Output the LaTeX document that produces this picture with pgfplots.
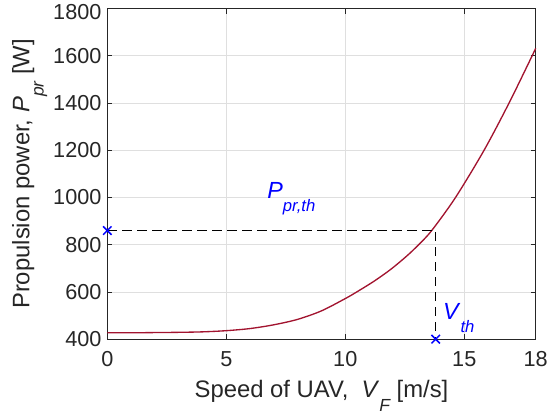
\documentclass[border=0pt]{standalone}
\usepackage{fontspec}
\setmainfont{Liberation Sans}
\usepackage{pgfplots}
\pgfplotsset{compat=1.18}
\definecolor{cCurve}{rgb}{0.635,0.078,0.184}
\definecolor{cAxis}{rgb}{0.15,0.15,0.15}
\definecolor{cGrid}{HTML}{DFDFDF}
\newcommand{\tickfont}{\fontsize{13}{15}\selectfont}
\newcommand{\labfont}{\fontsize{14.3}{16}\selectfont}
\newcommand{\annfont}{\fontsize{14}{16}\selectfont}
% MATLAB-style subscript: smaller and lowered well below the baseline
\newcommand{\lsub}[1]{\raisebox{-8.5pt}{\fontsize{10.5}{10.5}\selectfont\itshape #1}}
\newcommand{\asub}[1]{\raisebox{-7.5pt}{\fontsize{10}{10}\selectfont\itshape #1}}

\begin{document}
\begin{tikzpicture}
\begin{axis}[
  at={(0,0)}, anchor=south west,
  width=257pt, height=198.3pt, scale only axis,
  xmin=0, xmax=18, ymin=400, ymax=1800,
  xtick={0,5,10,15,18},
  ytick={400,600,800,1000,1200,1400,1600,1800},
  yticklabels={400,600,800,1000,1200,1400,1600,{\raisebox{-2.2pt}[\height][\depth]{1800}}},
  grid=major,
  major grid style={cGrid, line width=0.5pt},
  axis line style={cAxis, line width=0.5pt},
  major tick style={cAxis, line width=0.5pt},
  major tick length=3pt,
  tick label style={font=\tickfont, text=cAxis},
  xticklabel style={yshift=-4pt},
  /pgf/number format/assume math mode=true,
  /pgf/number format/1000 sep={},
  label style={font=\labfont, text=cAxis},
  xlabel={Speed of UAV,\ \ \textit{V}\lsub{F} [m/s]},
  ylabel={Propulsion power, \textit{P}\lsub{pr} [W]},
  xlabel style={at={(axis description cs:0.5,-0.177)}, anchor=base},
  ylabel style={at={(axis description cs:-0.182,0.5)}, anchor=base, rotate=0},
  clip=false,
]
% propulsion power curve
\addplot[cCurve, line width=0.8pt, smooth] coordinates {
  (0,427) (1,427) (2,428) (3,429) (4,431) (5,436) (6,445) (7,461)
  (8,484) (9,520) (10,572) (10.48,600) (11.2,645) (11.9,695)
  (12.58,752) (13.08,800) (13.63,860) (14.63,1000) (15.83,1200)
  (16.88,1400) (17.85,1600) (18,1632)
};
\addplot[black, line width=0.6pt, dash pattern=on 5.5pt off 3.5pt] coordinates {
  (0,860) (13.8,860) (13.8,400)
};
\addplot[blue, only marks, mark=x, mark size=3.6pt, line width=0.9pt] coordinates {
  (0,860) (13.8,400)
};
\node[anchor=base west, font=\annfont, text=blue, inner sep=0pt]
  at (axis cs:6.71,994) {\textit{P}\asub{pr,th}};
\node[anchor=base west, font=\annfont, text=blue, inner sep=0pt]
  at (axis cs:14.1,482) {\textit{V}\asub{th}};
\end{axis}
\pgfresetboundingbox
\path[use as bounding box] (-64.4pt,-45.7pt) rectangle (264.4pt,203.5pt);
\end{tikzpicture}
\end{document}
